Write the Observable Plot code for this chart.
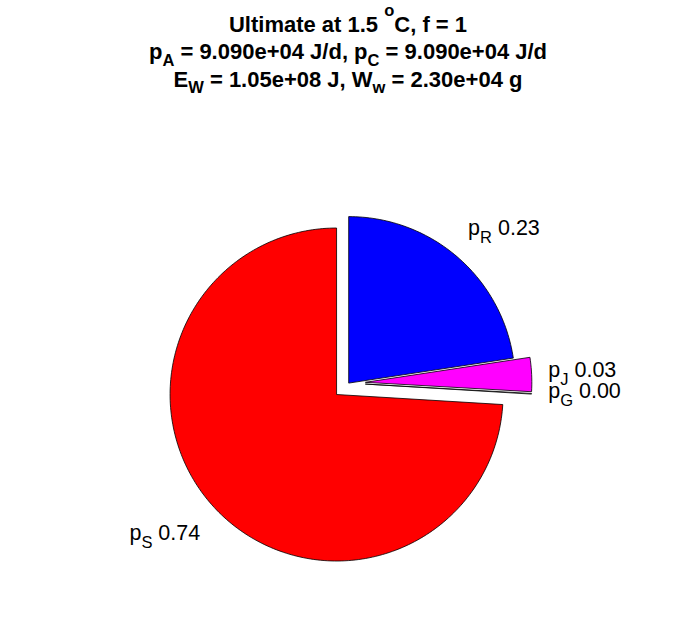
<!DOCTYPE html>
<html><head><meta charset="utf-8">
<script src="https://cdn.jsdelivr.net/npm/d3@7"></script>
<script src="https://cdn.jsdelivr.net/npm/@observablehq/plot@0.6"></script>
<style>
body{margin:0;background:#fff;}
#title svg,#chart svg{display:block;}
</style></head>
<body><div id="title"></div><div id="chart"></div>
<script>
// ---- data ----
const names   = ["R", "J", "G", "S"];
const values  = [0.226, 0.033, 0.0006, 0.7404];
const colors  = ["#0000ff", "#ff00ff", "#ffffff", "#ff0000"];
const explode = [0, 1, 1, 1];
// title segments: [text, mode] mode 0 normal, 1 subscript, -1 superscript
const titleLine1 = [["Ultimate at 1.5 ", 0], ["o", -1], ["C, f = 1", 0]];
const titleLine2 = [["p", 0], ["A", 1], [" = 9.090e+04 J/d, p", 0], ["C", 1], [" = 9.090e+04 J/d", 0]];
const titleLine3 = [["E", 0], ["W", 1], [" = 1.05e+08 J, W", 0], ["w", 1], [" = 2.30e+04 g", 0]];

const FONT = "'Liberation Sans', Arial, Helvetica, sans-serif";

// ---- title ----
const tsvg = d3.select("#title").append("svg").attr("width", 696).attr("height", 110);
const titleLines = [titleLine1, titleLine2, titleLine3];
const baselines = [31.5, 59, 86.5];
titleLines.forEach((segs, li) => {
  const t = tsvg.append("text").attr("x", 348).attr("y", baselines[li])
    .attr("text-anchor", "middle").attr("font-family", FONT)
    .attr("font-weight", "bold").attr("font-size", 22).attr("fill", "black");
  let shift = 0;
  segs.forEach(([s, m]) => {
    const target = m === 1 ? 6.5 : m === -1 ? -16 : 0;
    const ts = t.append("tspan").attr("dy", target - shift).text(s);
    if (m !== 0) ts.attr("font-size", 16.5);
    shift = target;
  });
});

// ---- pie geometry from values ----
const total = d3.sum(values);
let cum = 0;
const slices = values.map((v, i) => {
  const a0 = Math.PI / 2 - (cum / total) * 2 * Math.PI;
  cum += v;
  const a1 = Math.PI / 2 - (cum / total) * 2 * Math.PI;
  const mid = (a0 + a1) / 2;
  const off = explode[i] ? 0.1 : 0;
  const ox = off * Math.cos(mid), oy = off * Math.sin(mid);
  const n = Math.max(2, Math.ceil(v * 300));
  const pts = [{x: ox, y: oy}];
  for (let k = 0; k <= n; k++) {
    const a = a0 + (a1 - a0) * k / n;
    pts.push({x: ox + Math.cos(a), y: oy + Math.sin(a)});
  }
  pts.push({x: ox, y: oy});
  const lr = explode[i] ? 1.2 : 1.1;
  const lx = lr * Math.cos(mid), ly = lr * Math.sin(mid);
  const s = Math.sin(mid);
  const valign = Math.abs(s) < 0.3 ? "middle" : s > 0 ? "bottom" : "top";
  return {name: names[i], value: v, color: colors[i], pts, lx, ly,
          label: d3.format(".2f")(v / total),
          anchor: Math.cos(mid) >= 0 ? "start" : "end", valign};
});

const W = 696, H = 508, cx = 348.2, cy = 272.6, R = 166.5;
const vdy = {bottom: -8.8, middle: 3.7, top: 20};

const marks = [];
slices.forEach(s => {
  marks.push(Plot.line(s.pts, {x: "x", y: "y", fill: s.color, stroke: "black",
    strokeWidth: 0.8, strokeLinejoin: "miter", strokeLinecap: "butt", strokeMiterlimit: 10}));
});
slices.forEach(s => {
  marks.push(Plot.text([s], {x: "lx", y: "ly", text: d => "p" + d.name + " " + d.label,
    textAnchor: s.anchor, lineAnchor: "bottom", dy: vdy[s.valign], dx: s.anchor === "end" ? -3 : 0,
    fontSize: 21.5, fill: "black"}));
});

const chart = Plot.plot({
  width: W, height: H, margin: 0,
  style: {fontFamily: FONT, background: "white"},
  x: {domain: [-cx / R, (W - cx) / R], axis: null},
  y: {domain: [(cy - H) / R, cy / R], axis: null},
  marks
});
document.getElementById("chart").appendChild(chart);

// rich text (subscripts) for the labels
const texts = chart.querySelectorAll('g[aria-label="text"] text');
texts.forEach((el, i) => {
  const s = slices[i];
  el.removeAttribute("y");
  el.textContent = "";
  const sel = d3.select(el);
  sel.append("tspan").text("p");
  sel.append("tspan").attr("dy", 8).attr("font-size", 16.5).text(s.name);
  sel.append("tspan").attr("dy", -8).text(" " + s.label);
});
</script>
</body></html>
